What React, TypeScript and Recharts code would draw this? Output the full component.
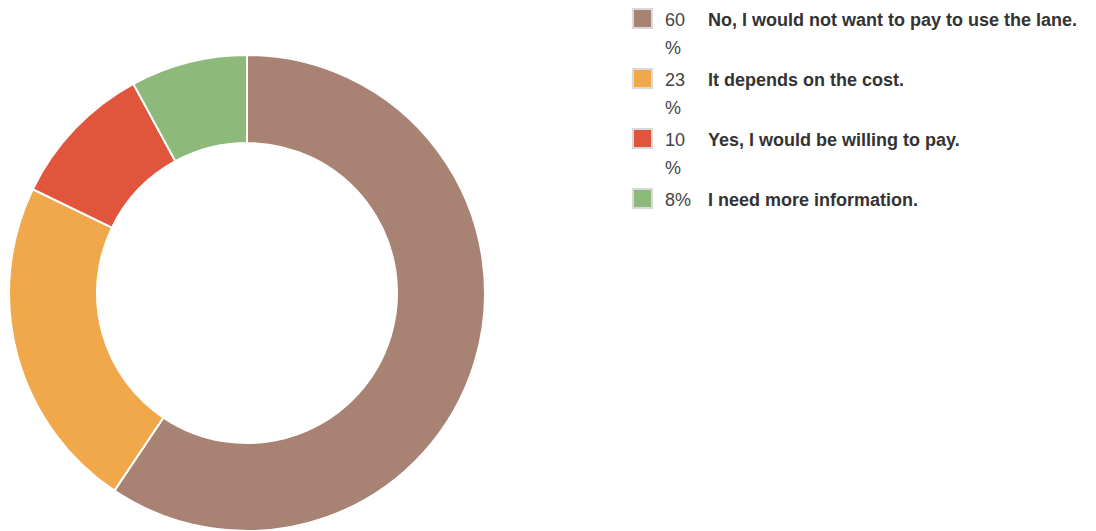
import React from 'react';
import { Cell, Legend, Pie, PieChart } from 'recharts';

const answers = [
  'No, I would not want to pay to use the lane.',
  'It depends on the cost.',
  'Yes, I would be willing to pay.',
  'I need more information.',
];
const shares = [60, 23, 10, 8];
const colors = ['#A88374', '#F0A84B', '#E2553D', '#8DBA7A'];

const data = answers.map((name, i) => ({ name, value: shares[i] }));

function LegendList() {
  return (
    <div style={{ fontFamily: '"Liberation Sans", Arial, sans-serif', fontSize: 18 }}>
      {data.map((d, i) => (
        <div key={d.name} style={{ display: 'flex', alignItems: 'flex-start', marginBottom: 4, lineHeight: '28px' }}>
          <div
            style={{
              width: 17,
              height: 17,
              marginTop: 2,
              border: '2px solid #d9d9d9',
              background: colors[i],
              flexShrink: 0,
            }}
          />
          <div style={{ width: 30, marginLeft: 12, marginRight: 13, color: '#444' }}>
            {d.value}
            <wbr />%
          </div>
          <div style={{ fontWeight: 'bold', color: '#333', whiteSpace: 'nowrap' }}>{d.name}</div>
        </div>
      ))}
    </div>
  );
}

export default function App() {
  return (
    <div style={{ position: 'absolute', left: 0, top: 0, background: '#fff' }}>
      <PieChart width={1096} height={531} margin={{ top: 0, right: 0, bottom: 0, left: 0 }}>
        <Pie
          data={data}
          dataKey="value"
          nameKey="name"
          cx={247}
          cy={293}
          innerRadius={150}
          outerRadius={238}
          startAngle={90}
          endAngle={-270}
          stroke="#ffffff"
          strokeWidth={2}
          isAnimationActive={false}
        >
          {data.map((d, i) => (
            <Cell key={d.name} fill={colors[i]} />
          ))}
        </Pie>
        <Legend
          layout="vertical"
          content={() => <LegendList />}
          wrapperStyle={{ left: 632, top: 6, width: 460 }}
        />
      </PieChart>
    </div>
  );
}
